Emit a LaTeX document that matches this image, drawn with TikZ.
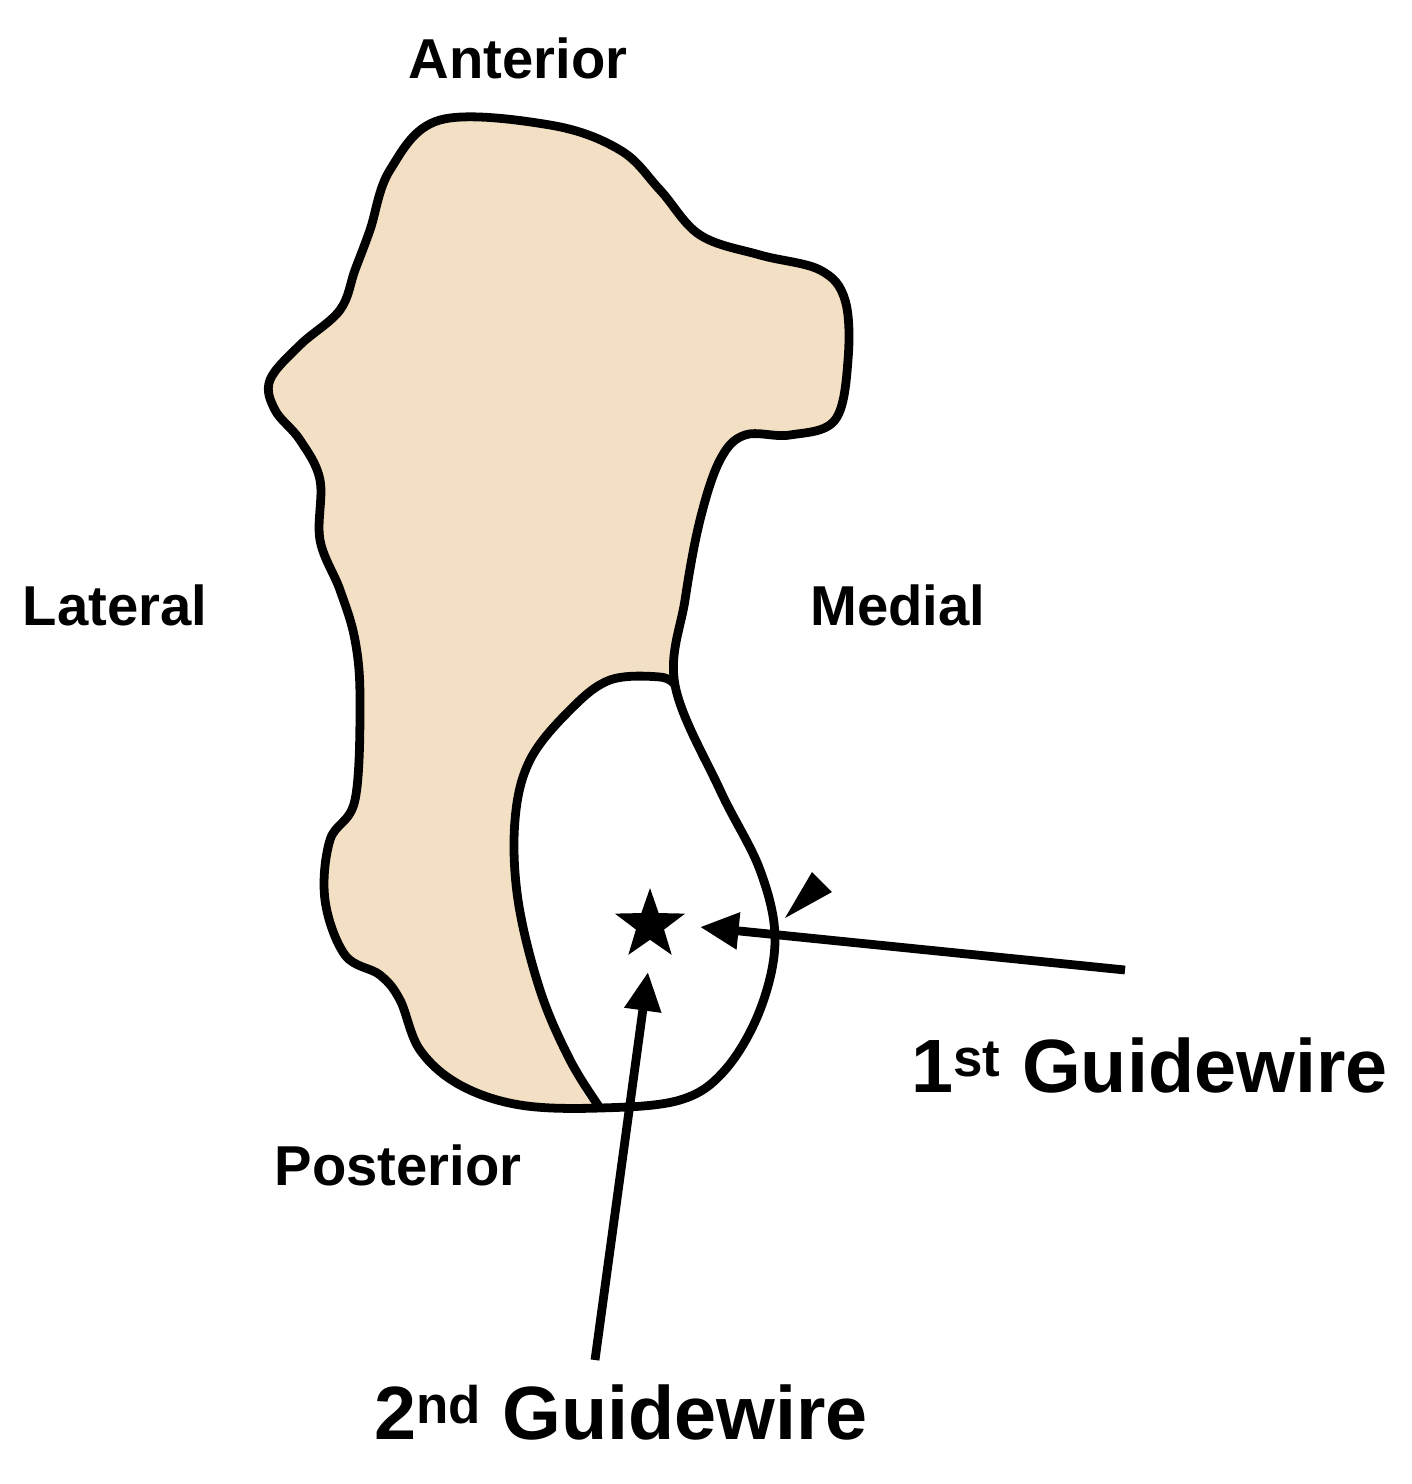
\documentclass[tikz,border=0pt]{standalone}
\usepackage{fontspec}
\setmainfont{Liberation Sans}
\usetikzlibrary{arrows.meta,shapes.geometric}
\begin{document}
\begin{tikzpicture}[x=0.02cm,y=-0.02cm,
  outline/.style={line width=5pt,line join=round},
  lbl/.style={font=\bfseries\fontsize{32}{38}\selectfont},
  big/.style={font=\bfseries\fontsize{43}{50}\selectfont},
  wire/.style={line width=5pt,-{Triangle[length=22pt,width=20pt]}}]
\useasboundingbox (0,0) rectangle (1412,1484);
\definecolor{bone}{HTML}{F3E0C4}
\fill[bone] plot[smooth cycle,tension=0.6] coordinates {(440,120)(550,125)(620,150)(660,190)(700,235)(760,255)(820,270)(845,300)(848,360)(835,420)(790,435)(745,435)(720,460)(700,520)(685,600)(675,685)(720,790)(760,870)(775,940)(760,1010)(725,1070)(680,1100)(600,1108)(520,1105)(460,1085)(420,1050)(400,1000)(380,975)(345,955)(325,900)(330,840)(355,800)(360,700)(355,640)(340,590)(320,540)(320,480)(300,440)(275,410)(270,380)(300,345)(340,310)(355,270)(370,230)(390,170)};
\fill[white] plot[smooth cycle,tension=0.6] coordinates {(675,685)(720,790)(760,870)(775,940)(760,1010)(725,1070)(680,1100)(600,1108)(570,1060)(540,990)(518,900)(515,820)(530,760)(570,710)(610,680)(660,677)};
\draw[outline] plot[smooth cycle,tension=0.6] coordinates {(440,120)(550,125)(620,150)(660,190)(700,235)(760,255)(820,270)(845,300)(848,360)(835,420)(790,435)(745,435)(720,460)(700,520)(685,600)(675,685)(720,790)(760,870)(775,940)(760,1010)(725,1070)(680,1100)(600,1108)(520,1105)(460,1085)(420,1050)(400,1000)(380,975)(345,955)(325,900)(330,840)(355,800)(360,700)(355,640)(340,590)(320,540)(320,480)(300,440)(275,410)(270,380)(300,345)(340,310)(355,270)(370,230)(390,170)};
\draw[outline] plot[smooth,tension=0.6] coordinates {(675,685)(660,677)(610,680)(570,710)(530,760)(515,820)(518,900)(540,990)(570,1060)(600,1108)};
\node (ant) [lbl] at (518,58) {Anterior};
\node (lat) [lbl] at (115,605) {Lateral};
\node (med) [lbl] at (898,605) {Medial};
\node (post) [lbl] at (398,1165) {Posterior};
\node (star) [star,star points=5,star point ratio=2.5,fill=black,minimum size=42pt,inner sep=0pt] at (650,925) {};
\node (g1) [big,anchor=west] at (905,1065) {1\textsuperscript{st} Guidewire};
\node (g2) [big,anchor=west] at (368,1412) {2\textsuperscript{nd} Guidewire};
\coordinate (a1s) at (1125,970); \coordinate (a1e) at (700,927);
\coordinate (a2s) at (595,1360); \coordinate (a2e) at (648,972);
\draw[wire] (a1s) -- (a1e);
\draw[wire] (a2s) -- (a2e);
\fill (785,918) -- (812,872) -- (832,892) -- cycle;
\end{tikzpicture}
\end{document}
